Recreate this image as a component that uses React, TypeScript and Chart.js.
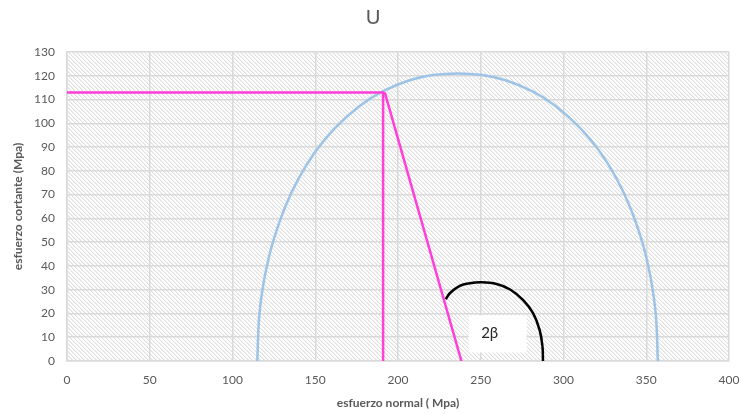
import React, { useEffect, useRef } from 'react';
import { Chart, registerables } from 'chart.js';

Chart.register(...registerables);

// ---- data ----
const chartTitle = 'U';
const xAxisTitle = 'esfuerzo normal ( Mpa)';
const yAxisTitle = 'esfuerzo cortante (Mpa)';

const xMin = 0;
const xMax = 400;
const xStep = 50;
const yMin = 0;
const yMax = 130;
const yStep = 10;

// Mohr circle (upper half)
const circleX = [115, 116, 118, 121, 125, 132, 140, 150, 162, 177, 191, 207, 221, 236, 251, 265, 281, 295, 310, 322, 332, 340, 347, 351, 354, 356, 357];
const circleY = [0, 17.5, 29.5, 40.7, 51.4, 65.1, 76.8, 88.0, 98.1, 107.4, 113.5, 118.1, 120.3, 121, 120.3, 118.1, 113.5, 107.4, 98.1, 88.0, 76.8, 65.1, 51.4, 40.7, 29.5, 17.5, 0];

// pink construction lines
const guideX = [0, 191, 191];
const guideY = [113, 113, 0];
const radiusX = [192, 238.3];
const radiusY = [113, 0];

// black angle arc
const arcX = [228.9, 231.3, 237.3, 243.4, 250.4, 259.5, 267.5, 275.5, 281.6, 285.6, 287.3, 287.6];
const arcY = [26.0, 28.5, 31.6, 32.7, 33.1, 32.4, 30.2, 25.7, 20.1, 13.0, 6.0, 0];

// angle label
const angleLabel = '2β';
const angleLabelX = 255.4;
const angleLabelY = 11.6;

const FONT = 'Lato, "Open Sans", sans-serif';
const TEXT_COLOR = '#595959';
const GRID_COLOR = '#d9d9d9';

function pts(xs: number[], ys: number[]) {
  return xs.map((x, i) => ({ x, y: ys[i] }));
}

function makeHatch(): CanvasPattern | string {
  const c = document.createElement('canvas');
  c.width = 4;
  c.height = 4;
  const cx = c.getContext('2d');
  if (!cx) return '#f0f0f0';
  const img = cx.createImageData(4, 4);
  for (let y = 0; y < 4; y++) {
    for (let x = 0; x < 4; x++) {
      const m = (((x - y) % 4) + 4) % 4;
      let v = 255;
      if (m === 0) v = 222;
      else if (m === 1) v = 243;
      const k = (y * 4 + x) * 4;
      img.data[k] = v;
      img.data[k + 1] = v;
      img.data[k + 2] = v;
      img.data[k + 3] = 255;
    }
  }
  cx.putImageData(img, 0, 0);
  const p = cx.createPattern(c, 'repeat');
  return p || '#f0f0f0';
}

const backgroundPlugin = {
  id: 'bgHatch',
  beforeDraw(chart: any) {
    const { ctx, chartArea, width, height } = chart;
    ctx.save();
    ctx.fillStyle = '#ffffff';
    ctx.fillRect(0, 0, width, height);
    ctx.fillStyle = makeHatch();
    ctx.fillRect(chartArea.left, chartArea.top, chartArea.right - chartArea.left, chartArea.bottom - chartArea.top);
    ctx.restore();
  },
};

const titlePlugin = {
  id: 'customTitle',
  afterDraw(chart: any) {
    const { ctx } = chart;
    ctx.save();
    ctx.fillStyle = TEXT_COLOR;
    ctx.font = `20px ${FONT}`;
    ctx.textAlign = 'center';
    ctx.textBaseline = 'middle';
    ctx.fillText(chartTitle, 373, 18);
    ctx.restore();
  },
};

const labelPlugin = {
  id: 'angleLabel',
  afterDatasetsDraw(chart: any) {
    const { ctx, scales } = chart;
    const px = scales.x.getPixelForValue(angleLabelX);
    const py = scales.y.getPixelForValue(angleLabelY);
    ctx.save();
    ctx.fillStyle = '#ffffff';
    ctx.fillRect(px - 21, py - 18, 58, 37);
    ctx.fillStyle = '#262626';
    ctx.font = `15px ${FONT}`;
    ctx.textAlign = 'center';
    ctx.textBaseline = 'middle';
    ctx.fillText(angleLabel, px, py);
    ctx.restore();
  },
};

export default function App() {
  const ref = useRef<HTMLCanvasElement | null>(null);

  useEffect(() => {
    if (!ref.current) return;
    const chart = new Chart(ref.current, {
      type: 'scatter',
      data: {
        datasets: [
          {
            label: 'guide',
            data: pts(guideX, guideY),
            showLine: true,
            borderColor: '#ff3fd8',
            borderWidth: 2.5,
            pointRadius: 0,
            tension: 0,
          },
          {
            label: 'radius',
            data: pts(radiusX, radiusY),
            showLine: true,
            borderColor: '#ff3fd8',
            borderWidth: 2.5,
            pointRadius: 0,
            tension: 0,
          },
          {
            label: 'arc',
            data: pts(arcX, arcY),
            showLine: true,
            borderColor: '#000000',
            borderWidth: 2.5,
            pointRadius: 0,
            tension: 0.4,
          },
          {
            label: 'circle',
            data: pts(circleX, circleY),
            showLine: true,
            borderColor: '#9dc3e6',
            borderWidth: 2.5,
            pointRadius: 0,
            tension: 0.4,
          },
        ],
      } as any,
      options: {
        animation: false,
        responsive: false,
        devicePixelRatio: 1,
        layout: { padding: { left: 0, right: 12, top: 52, bottom: 0 } },
        plugins: {
          legend: { display: false },
          tooltip: { enabled: false },
          title: { display: false },
        },
        scales: {
          x: {
            type: 'linear',
            min: xMin,
            max: xMax,
            ticks: {
              stepSize: xStep,
              color: TEXT_COLOR,
              font: { family: FONT, size: 12 },
              padding: 12,
            },
            grid: { color: GRID_COLOR, lineWidth: 1.5, drawTicks: false },
            border: { color: GRID_COLOR, width: 1.5 },
            title: {
              display: true,
              text: xAxisTitle,
              color: TEXT_COLOR,
              font: { family: FONT, size: 12, weight: 'bold' },
              padding: { top: 0, bottom: 4 },
            },
            afterFit(s: any) {
              s.height = 53;
              s.paddingLeft = 0;
              s.paddingRight = 0;
            },
          },
          y: {
            type: 'linear',
            min: yMin,
            max: yMax,
            ticks: {
              stepSize: yStep,
              color: TEXT_COLOR,
              font: { family: FONT, size: 12 },
              padding: 12,
            },
            grid: { color: GRID_COLOR, lineWidth: 1.5, drawTicks: false },
            border: { color: GRID_COLOR, width: 1.5 },
            title: {
              display: true,
              text: yAxisTitle,
              color: TEXT_COLOR,
              font: { family: FONT, size: 12, weight: 'bold' },
              padding: { top: 11, bottom: 0 },
            },
            afterFit(s: any) {
              s.width = 67;
              s.paddingTop = 0;
              s.paddingBottom = 0;
            },
          },
        },
      } as any,
      plugins: [backgroundPlugin, labelPlugin, titlePlugin],
    });
    return () => chart.destroy();
  }, []);

  return (
    <div style={{ position: 'absolute', left: 0, top: 0, width: 741, height: 414, background: '#fff' }}>
      <canvas ref={ref} width={741} height={414} style={{ width: 741, height: 414, display: 'block' }} />
    </div>
  );
}
